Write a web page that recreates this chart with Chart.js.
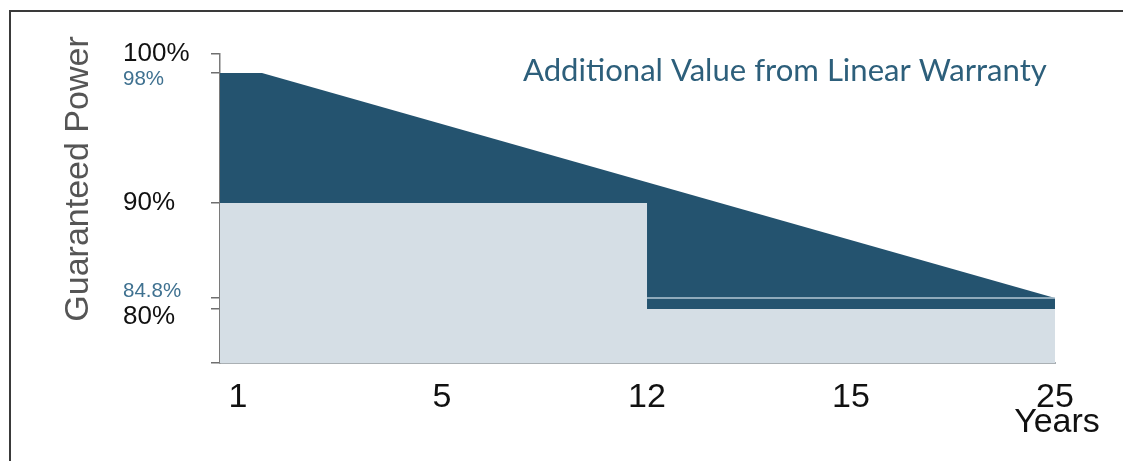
<!DOCTYPE html>
<html>
<head>
<meta charset="utf-8">
<script src="https://cdn.jsdelivr.net/npm/chart.js@4.4.1/dist/chart.umd.min.js"></script>
<style>
  html, body { margin: 0; padding: 0; background: #fff; overflow: hidden; }
  #wrap { position: relative; width: 1123px; height: 461px; overflow: hidden; }
</style>
</head>
<body>
<div id="wrap">
  <canvas id="grafico"></canvas>
</div>
<script>
// data
const yearTicks = [1, 5, 12, 15, 25];
const powerTicks = [100, 98, 90, 84.8, 80];
const warrantyPoints = [98, 84.8];

const linearYears = [0, 1, 25];
const linearPower = [98, 98, 84.8];

const stepYears = [0, 12, 12, 25];
const stepPower = [90, 90, 80, 80];

const markYears = [12, 25];
const markPower = [84.8, 84.8];

// the original axes are not to scale, so both axes are bent through anchor points
const axisAnchors = {
    x: { values: [0, 1, 5, 12, 15, 25], fracs: [0, 0.0503, 0.2659, 0.5114, 0.7557, 1] },
    y: { values: [76, 80, 84.8, 90, 98, 100], fracs: [0, 0.1748, 0.2104, 0.5178, 0.9385, 1] }
};

const interp = (v, from, to) => {
    if (v <= from[0]) return to[0];
    for (let i = 1; i < from.length; i++) {
        if (v <= from[i]) {
            const t = (v - from[i - 1]) / (from[i] - from[i - 1]);
            return to[i - 1] + t * (to[i] - to[i - 1]);
        }
    }
    return to[to.length - 1];
};

class WarpScale extends Chart.LinearScale {
    getPixelForValue(value) {
        const a = axisAnchors[this.id];
        const f = interp(value, a.values, a.fracs);
        return this.isHorizontal() ? this.left + f * this.width : this.bottom - f * this.height;
    }
    getValueForPixel(pixel) {
        const a = axisAnchors[this.id];
        const f = this.isHorizontal() ? (pixel - this.left) / this.width : (this.bottom - pixel) / this.height;
        return interp(f, a.fracs, a.values);
    }
}
WarpScale.id = 'warp';
WarpScale.defaults = Chart.LinearScale.defaults;
Chart.register(WarpScale);

const pts = (xs, ys) => xs.map((x, i) => ({ x: x, y: ys[i] }));

const yLabelShift = { 100: 0, 98: 6, 90: 0, 84.8: -7, 80: 8 };
const xLabelShift = { 1: -24 };

const textos = {
    id: 'textos',
    beforeDraw(chart) {
        // frame of the picture, open at right and bottom
        const ctx = chart.ctx;
        ctx.save();
        ctx.strokeStyle = '#3a3a3a';
        ctx.lineWidth = 2;
        ctx.beginPath();
        ctx.moveTo(10, chart.height);
        ctx.lineTo(10, 11);
        ctx.lineTo(chart.width, 11);
        ctx.stroke();
        ctx.restore();
    },
    afterDraw(chart) {
        const ctx = chart.ctx;
        const xs = chart.scales.x;
        const ys = chart.scales.y;
        ctx.save();

        // y labels
        ctx.textAlign = 'left';
        ctx.textBaseline = 'middle';
        powerTicks.forEach(v => {
            const blue = warrantyPoints.includes(v);
            ctx.font = blue ? '20.5px "Liberation Sans", Arial' : '26px "Liberation Sans", Arial';
            ctx.fillStyle = blue ? '#3f7190' : '#111';
            ctx.fillText(v + '%', 123, ys.getPixelForValue(v) + (yLabelShift[v] || 0));
        });

        // x labels
        ctx.textAlign = 'center';
        ctx.textBaseline = 'alphabetic';
        ctx.font = '34px "Liberation Sans", Arial';
        ctx.fillStyle = '#111';
        yearTicks.forEach(v => {
            ctx.fillText(String(v), xs.getPixelForValue(v) + (xLabelShift[v] || 0), xs.top + 44);
        });
        ctx.fillText('Years', xs.right + 2, xs.top + 69);

        // y title
        ctx.save();
        ctx.translate(88, 179);
        ctx.rotate(-Math.PI / 2);
        ctx.font = '34px "Liberation Sans", Arial';
        ctx.fillStyle = '#555';
        ctx.fillText('Guaranteed Power', 0, 0);
        ctx.restore();

        // caption
        const caption = 'Additional Value from Linear Warranty';
        ctx.font = '24px Lato';
        const w = ctx.measureText(caption).width;
        ctx.font = (24 * 524 / w).toFixed(2) + 'px Lato';
        ctx.textAlign = 'left';
        ctx.fillStyle = '#2d5f7b';
        ctx.fillText(caption, 523, 81);

        ctx.restore();
    }
};

document.addEventListener('DOMContentLoaded', function() {
    const canvas = document.getElementById('grafico');
    canvas.width = 1123;
    canvas.height = 461;

    new Chart(canvas.getContext('2d'), {
        type: 'line',
        data: {
            datasets: [
                {
                    data: pts(markYears, markPower),
                    borderColor: '#b3c7d4',
                    borderWidth: 1.5,
                    fill: false,
                    order: 1
                },
                {
                    data: pts(stepYears, stepPower),
                    borderWidth: 0,
                    borderColor: 'transparent',
                    backgroundColor: '#d5dee5',
                    fill: 'start',
                    order: 2
                },
                {
                    data: pts(linearYears, linearPower),
                    borderWidth: 0,
                    borderColor: 'transparent',
                    backgroundColor: '#24536f',
                    fill: 'start',
                    order: 3
                }
            ]
        },
        options: {
            responsive: false,
            animation: false,
            events: [],
            elements: { point: { radius: 0 }, line: { tension: 0 } },
            layout: { padding: { top: 54, right: 68, left: 0, bottom: 0 } },
            plugins: { legend: { display: false }, tooltip: { enabled: false } },
            scales: {
                x: {
                    type: 'warp',
                    min: 0,
                    max: 25,
                    grid: { display: false },
                    border: { display: true, color: '#aab0b4', width: 2 },
                    ticks: { display: false },
                    afterFit: s => { s.height = 98; }
                },
                y: {
                    type: 'warp',
                    min: 76,
                    max: 100,
                    afterBuildTicks: s => { s.ticks = [76].concat(powerTicks).map(v => ({ value: v })); },
                    grid: { drawOnChartArea: false, drawTicks: true, tickLength: 9, color: '#6f6f6f', lineWidth: 1.5 },
                    border: { display: true, color: '#7a7a7a', width: 1.5 },
                    ticks: { display: false },
                    afterFit: s => { s.width = 220; }
                }
            }
        },
        plugins: [textos]
    });
});
</script>
</body>
</html>
